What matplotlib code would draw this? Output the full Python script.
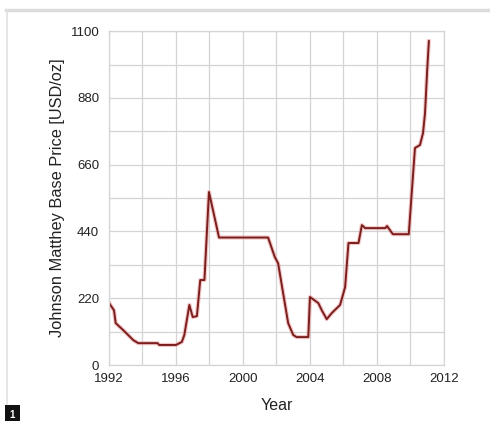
import matplotlib.pyplot as plt
from matplotlib.lines import Line2D

plt.rcParams['font.family'] = ['Liberation Sans', 'DejaVu Sans']

years = [1992.0, 1992.3, 1992.4, 1992.85, 1993.45, 1993.75, 1994.9, 1995.0,
         1996.0, 1996.35, 1996.5, 1996.8, 1997.0, 1997.25, 1997.45, 1997.7,
         1997.97, 1998.57, 2001.5, 2001.9, 2002.1, 2002.4, 2002.7, 2003.0,
         2003.2, 2003.9, 2004.0, 2004.5, 2004.7, 2005.0, 2005.3, 2005.8,
         2006.1, 2006.3, 2006.9, 2007.1, 2007.3, 2008.5, 2008.6, 2008.95,
         2009.9, 2010.27, 2010.57, 2010.75, 2010.87, 2011.0, 2011.1]
prices = [205, 180, 138, 115, 82, 72, 72, 66,
          66, 76, 99, 198, 158, 161, 280, 280,
          570, 420, 420, 356, 335, 236, 138, 99,
          92, 92, 224, 204, 181, 151, 171, 198,
          257, 402, 402, 461, 451, 451, 458, 431,
          431, 715, 725, 764, 830, 972, 1067]

x_ticks = [1992, 1996, 2000, 2004, 2008, 2012]
y_ticks = [0, 220, 440, 660, 880, 1100]

fig = plt.figure(figsize=(4.9, 4.21), dpi=100)
ax = fig.add_axes([0.2224, 0.133, 0.6836, 0.793])

# soft top rule and left rule of the panel frame
fig.lines.append(Line2D([0.012, 1.0], [0.976, 0.976], transform=fig.transFigure,
                        color='#dcdcdc', linewidth=2.5))
fig.lines.append(Line2D([0.014, 0.014], [0.976, 0.04], transform=fig.transFigure,
                        color='#e2e2e2', linewidth=1.2))

ax.plot(years, prices, color='#eba0a0', linewidth=3.0, alpha=0.6, solid_joinstyle='round')
ax.plot(years, prices, color='#7a1e1e', linewidth=1.4, solid_joinstyle='round')

ax.set_xlim(1992, 2012)
ax.set_ylim(0, 1100)
ax.set_xticks(x_ticks)
ax.set_yticks(y_ticks)
ax.set_xticks(range(1992, 2013, 2), minor=True)
ax.set_yticks(range(0, 1101, 110), minor=True)
ax.grid(which='both', color='#d4d4d4', linewidth=0.9)
ax.set_axisbelow(True)
ax.tick_params(which='both', length=0, labelsize=9.5, colors='#222222')
ax.tick_params(axis='x', pad=6)
ax.tick_params(axis='y', pad=7)
for s in ax.spines.values():
    s.set_color('#d4d4d4')
    s.set_linewidth(0.9)

ax.set_xlabel('Year', fontsize=11.5, color='#222222', labelpad=9)
ax.set_ylabel('Johnson Matthey Base Price [USD/oz]', fontsize=11.8, color='#222222', labelpad=4)

fig.text(0.02, 0.008, '1', fontsize=7, color='white', fontweight='bold',
         bbox=dict(boxstyle='square,pad=0.45', facecolor='#111111', edgecolor='none'))

fig.savefig('out.png', dpi=100)
